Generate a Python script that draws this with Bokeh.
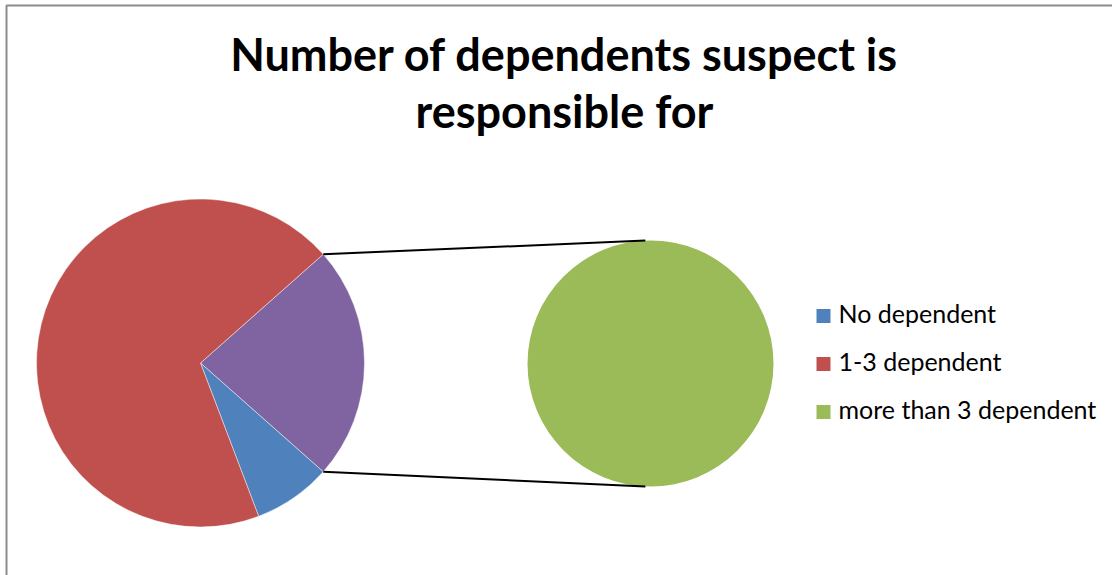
import math

from bokeh.core.properties import value
from bokeh.embed import file_html
from bokeh.models import ColumnDataSource, Range1d
from bokeh.plotting import figure
from bokeh.resources import INLINE

# Survey data: number of dependents each suspect is responsible for
categories = ["No dependent", "1-3 dependent", "more than 3 dependent"]
counts = [2, 18, 6]
colors = ["#4F81BD", "#C0504D", "#9BBB59"]
other_color = "#8064A2"
n_secondary = 1  # last category is split out into the secondary pie
title_lines = ["Number of dependents suspect is", "responsible for"]

W, H = 1112, 575
FONT = "Lato"
TITLE_SIZE = 45
LEGEND_SIZE = 25


def py(y_pix):
    """Convert a top-down pixel row into the bottom-up data space."""
    return H - y_pix


p = figure(width=W, height=H, output_backend="svg", toolbar_location=None,
           x_range=Range1d(0, W), y_range=Range1d(0, H), min_border=0)
p.axis.visible = False
p.grid.visible = False
p.outline_line_color = None
p.background_fill_color = "white"
p.border_fill_color = "white"

# chart-area frame (only top and left edges fall inside the page)
p.line(x=[6, 6, W], y=[0, py(5), py(5)], line_color="#8c8c8c", line_width=2)

total = sum(counts)
main_vals = counts[:len(counts) - n_secondary]
main_cols = colors[:len(counts) - n_secondary]
sec_vals = counts[len(counts) - n_secondary:]
sec_cols = colors[len(counts) - n_secondary:]
other = sum(sec_vals)

# primary pie layout
cx1, cy1, r1 = 200, py(362.5), 164
# secondary pie layout
cx2, cy2, r2 = 650, py(363), 123

half = other / total * math.pi

wx, wy, wr, ws, we, wc = [], [], [], [], [], []
full = []  # slices that fill a whole pie


def add_wedge(x, y, r, a0, a1, c):
    if a1 - a0 >= 2 * math.pi - 1e-9:
        full.append((x, y, r, c))
        return
    wx.append(x); wy.append(y); wr.append(r)
    ws.append(a0); we.append(a1); wc.append(c)


# "other" slice centred on the right-hand side
add_wedge(cx1, cy1, r1, -half, half, other_color)
# remaining slices run clockwise from the bottom edge of the "other" slice
a = -half
for v, c in zip(main_vals, main_cols):
    b = a - v / total * 2 * math.pi
    add_wedge(cx1, cy1, r1, b, a, c)
    a = b

# secondary pie: shares of the split-out group
a = math.pi / 2
for v, c in zip(sec_vals, sec_cols):
    b = a - v / other * 2 * math.pi
    add_wedge(cx2, cy2, r2, b, a, c)
    a = b

src = ColumnDataSource(dict(x=wx, y=wy, r=wr, s=ws, e=we, c=wc))
p.wedge(x="x", y="y", radius="r", start_angle="s", end_angle="e",
        direction="anticlock", fill_color="c", line_color="white",
        line_alpha=0.6, line_width=0.75, source=src)
if full:
    fx, fy, fr, fc = zip(*full)
    p.circle(x=list(fx), y=list(fy), radius=list(fr), fill_color=list(fc),
             line_color=None)

# connector lines between the "other" slice and the secondary pie
tip = math.radians(92.4)
for sgn in (1, -1):
    x0 = cx1 + r1 * math.cos(half)
    y0 = cy1 + sgn * r1 * math.sin(half)
    x1 = cx2 + r2 * math.cos(tip)
    y1 = cy2 + sgn * r2 * math.sin(tip)
    p.line(x=[x0, x1], y=[y0, y1], line_color="black", line_width=2)

# title
shift_t = 0.4 * TITLE_SIZE
p.text(x=[564, 564], y=[py(71 - shift_t), py(128 - shift_t)], text=title_lines,
       text_font=value(FONT), text_font_style="bold",
       text_font_size=f"{TITLE_SIZE}px",
       text_align="center", text_baseline="alphabetic", text_color="black")

# legend
leg_y = [315.5, 363.5, 411.5]
shift_l = 0.4 * LEGEND_SIZE
p.scatter(x=[823] * 3, y=[py(v) for v in leg_y], marker="square", size=14,
          fill_color=colors, line_color=None)
p.text(x=[838] * 3, y=[py(v + 7 - shift_l) for v in leg_y], text=categories,
       text_font=value(FONT), text_font_size=f"{LEGEND_SIZE}px",
       text_align="left", text_baseline="alphabetic", text_color="black")

open("out.html", "w").write(file_html(p, INLINE))
